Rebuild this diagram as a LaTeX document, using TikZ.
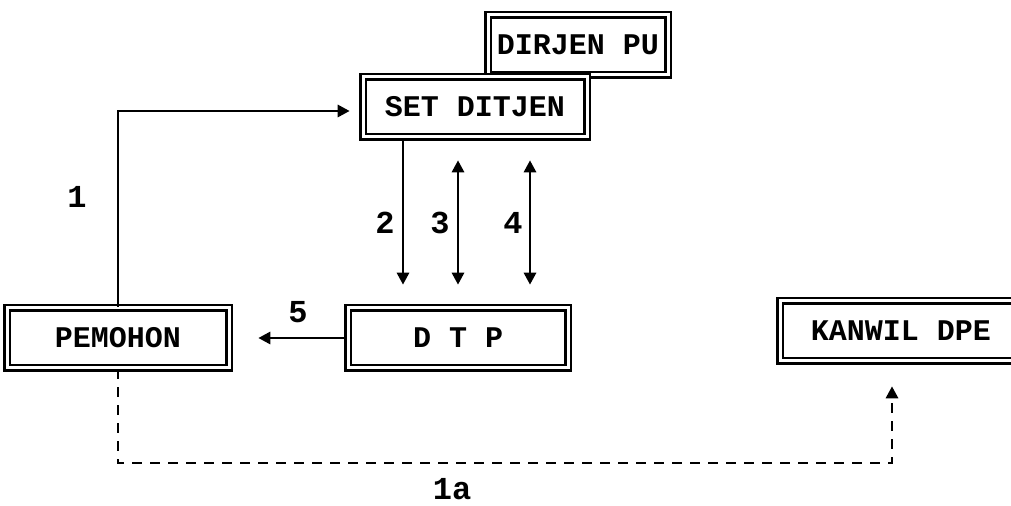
\documentclass[tikz,border=0pt]{standalone}
\usepackage{fontspec}
\setmonofont{Liberation Mono}
\usetikzlibrary{arrows.meta}
\tikzstyle{unit}=[draw,double,line width=1.3pt,double distance=1.5pt,fill=white,inner sep=0pt,minimum height=30pt,font=\ttfamily\bfseries\fontsize{15}{15}\selectfont]
\tikzstyle{flow}=[-{Triangle[length=6pt,width=6pt]},line width=1.4pt]
\tikzstyle{twoway}=[{Triangle[length=6pt,width=6pt]}-{Triangle[length=6pt,width=6pt]},line width=1.4pt]
\tikzstyle{stepnum}=[inner sep=0pt,font=\ttfamily\bfseries\fontsize{16}{16}\selectfont]

\begin{document}
\begin{tikzpicture}[x=0.5pt,y=-0.5pt]
  \useasboundingbox (0,0) rectangle (1011,506);
  % offices
  \node[unit,minimum width=90pt] (dirjen) at (578,45) {DIRJEN PU};
  \node[unit,minimum width=112pt] (set) at (475,107) {SET DITJEN};
  \node[unit,minimum width=111pt] (pem) at (118,338) {PEMOHON};
  \node[unit,minimum width=110pt] (dtp) at (458,338) {D T P};
  \node[unit,minimum width=121pt] (kanwil) at (901,331) {KANWIL DPE};
  % columns and rows of the connectors
  \coordinate (c2) at (403,0);
  \coordinate (c3) at (458,0);
  \coordinate (c4) at (530,0);
  \coordinate (low) at (0,463);
  \coordinate (kx) at (892,0);
  % 1 : pemohon to set ditjen
  \draw[flow,shorten >=6pt] (pem.north) |- ([yshift=-2pt]set.west);
  % 2, 3, 4 : between set ditjen and dtp
  \draw[flow,shorten >=11pt] (c2 |- set.south) -- (c2 |- dtp.north);
  \draw[twoway,shorten >=11pt,shorten <=11pt] (c3 |- set.south) -- (c3 |- dtp.north);
  \draw[twoway,shorten >=11pt,shorten <=11pt] (c4 |- set.south) -- (c4 |- dtp.north);
  % 5 : dtp back to pemohon
  \draw[flow,shorten >=14pt] (dtp.west) -- (pem.east);
  % 1a : pemohon to kanwil
  \draw[flow,dash pattern=on 5pt off 4pt,shorten >=12pt] (pem.south) -- (pem.south |- low) -| (kx |- kanwil.south);
  % step numbers
  \node[stepnum] (l1) at (77,197) {1};
  \node[stepnum] (l2) at (385,223) {2};
  \node[stepnum] (l3) at (440,223) {3};
  \node[stepnum] (l4) at (513,223) {4};
  \node[stepnum] (l5) at (298,312) {5};
  \node[stepnum] (l1a) at (452,489) {1a};
\end{tikzpicture}
\end{document}
